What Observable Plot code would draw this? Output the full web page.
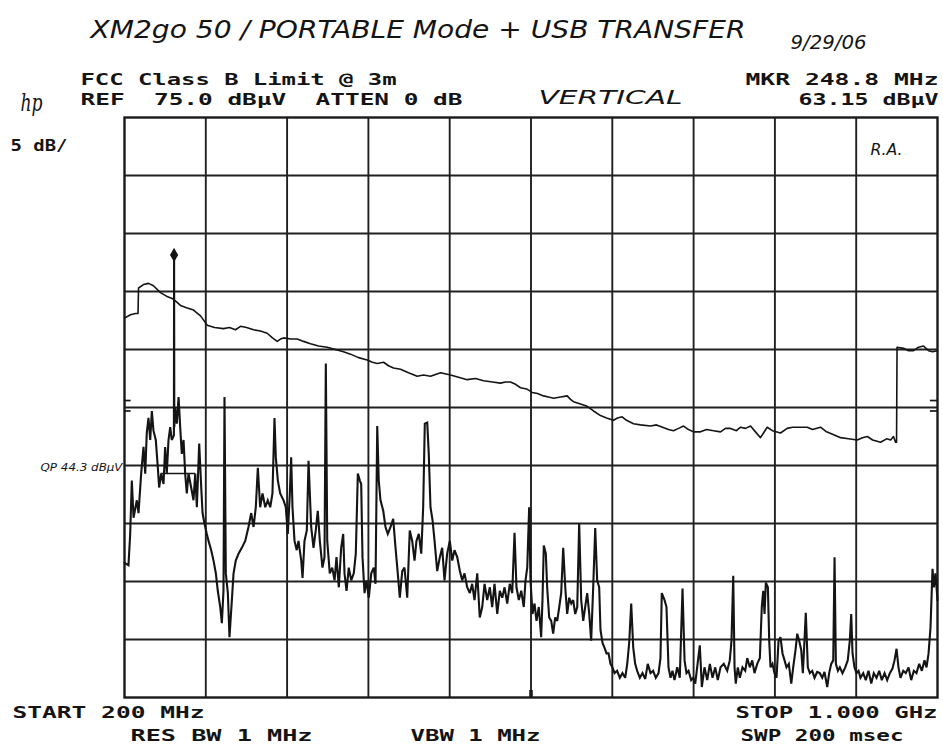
<!DOCTYPE html>
<html>
<head>
<meta charset="utf-8">
<script src="https://cdn.jsdelivr.net/npm/d3@7"></script>
<script src="https://cdn.jsdelivr.net/npm/@observablehq/plot@0.6"></script>
<style>
  html, body { margin: 0; padding: 0; background: #fff; }
  svg { display: block; }
</style>
</head>
<body>
<script>
// ---- axes (spectrum analyzer setup) ----
const startMHz = 200, stopMHz = 1000;     // START 200 MHz / STOP 1.000 GHz
const refDb = 75, bottomDb = 25;          // REF 75.0 dBµV, 5 dB/div, 10 div
const freqGridMHz = [280, 360, 440, 520, 600, 680, 760, 840, 920];
const levelGridDb = [30, 35, 40, 45, 50, 55, 60, 65, 70];

// ---- marker / annotations ----
const markerMHz = [248.8];
const markerDb = [63.15];
const qpDb = [44.3];
const qpSpanMHz = [236, 270];
const edgeTickDb = [50.6, 49.7];
const centerTickMHz = [599, 601];

// ---- FCC Class B limit line (as displayed) [MHz, dBµV] ----
const limitTrace = [
[200,57.7],[205.9,58.0],[210.8,58.1],[213.3,58.1],[213.8,60.3],[218.7,60.6],[223.6,60.7],[228.5,60.5],[235.4,59.9],[241.3,59.6],
[246.9,59.4],[251.2,59.1],[255.1,58.8],[261.0,58.6],[267.9,58.4],[274.8,57.9],[281.4,57.1],[288.6,56.9],[297.4,56.8],[303.3,56.9],
[309.2,56.7],[314.2,57.0],[320.1,56.9],[327.0,56.7],[333.8,56.6],[340.4,56.4],[345.6,56.0],[350.3,55.7],[353.5,55.9],[356.5,56.0],
[363.4,55.9],[370.0,55.9],[376.2,55.7],[383.0,55.5],[390.9,55.3],[399.5,55.2],[407.6,55.0],[415.5,54.8],[422.4,54.6],[430.3,54.3],
[438.8,54.1],[444.0,53.9],[448.7,53.8],[454.9,53.9],[459.8,53.6],[464.7,53.4],[471.6,53.3],[479.5,53.0],[488.0,52.7],[494.2,52.8],
[501.1,52.7],[511.0,53.0],[520.8,52.8],[528.7,52.6],[537.2,52.4],[545.4,52.5],[553.3,52.3],[562.1,52.2],[570.0,52.1],[574.9,52.2],
[579.8,52.2],[584.8,52.0],[589.7,51.7],[595.6,51.6],[601.2,51.3],[606.4,51.2],[612.3,51.0],[617.2,50.9],[622.2,50.8],[629.1,50.9],
[635.6,51.0],[638.9,50.7],[641.8,50.5],[648.7,50.3],[655.3,50.1],[661.5,49.7],[668.4,49.3],[674.3,49.1],[681.2,48.9],[685.1,49.1],
[689.7,49.2],[694.0,48.9],[700.9,48.6],[707.8,48.5],[717.6,48.4],[723.5,48.5],[729.4,48.3],[735.3,48.1],[740.2,48.0],[745.2,48.2],
[750.1,48.4],[755.0,48.1],[759.9,47.9],[766.8,47.9],[772.7,48.1],[779.6,48.0],[786.5,47.9],[791.4,48.2],[796.3,48.2],[802.2,48.0],
[806.2,48.3],[811.1,48.2],[816.0,48.4],[820.9,47.9],[825.8,47.4],[828.8,47.8],[832.4,48.3],[837.6,48.0],[845.5,47.8],[852.1,48.2],
[857.3,48.3],[865.2,48.3],[871.8,48.3],[877.0,48.1],[884.9,48.3],[890.8,47.9],[896.7,47.7],[904.6,47.4],[912.4,47.3],[921.0,47.2],
[926.2,47.4],[930.9,47.5],[936.2,47.2],[944.0,47.0],[949.9,47.3],[953.9,47.2],[956.7,47.5],[958.7,47.0],[959.7,47.0],[960.2,55.2],
[966.6,55.1],[971.5,54.9],[976.4,54.9],[981.3,55.2],[986.2,55.3],[991.2,54.9],[995.1,54.8],[1000,54.9]
];

// ---- measured emission trace [MHz, dBµV] ----
const noiseTrace = [
[200.0,36.6],[203.9,36.4],[205.6,39.1],[207.2,43.7],[208.9,40.5],[212.1,42.0],[213.8,40.9],[216.4,44.3],[218.7,46.6],[220.4,44.3],
[221.9,47.8],[223.6,49.1],[225.3,47.2],[226.9,49.7],[228.5,48.0],[230.8,47.2],[232.8,44.8],[234.1,43.1],[236.1,44.3],[238.4,43.4],
[240.0,46.6],[241.6,44.3],[243.3,47.2],[245.0,48.3],[246.5,47.2],[248.6,47.6],[248.8,63.15],[249.0,48.3],[249.9,50.0],[251.5,48.6],
[253.2,50.9],[254.8,48.3],[256.4,46.0],[258.1,47.2],[259.7,44.3],[261.3,42.6],[263.0,44.3],[265.6,43.1],[267.9,42.0],[269.6,44.3],
[271.2,41.4],[273.5,46.9],[275.5,43.1],[276.8,40.9],[278.7,40.0],[281.0,39.1],[282.7,38.5],[285.3,37.7],[287.6,36.8],[289.9,35.7],
[291.8,34.2],[294.2,32.8],[295.8,31.4],[297.4,34.2],[298.4,50.9],[299.7,35.7],[301.7,34.0],[303.3,30.2],[305.0,32.5],[307.3,35.7],
[309.5,36.8],[312.2,37.4],[315.4,37.9],[318.8,38.5],[322.0,39.7],[324.7,40.9],[327.0,39.7],[329.2,41.4],[331.2,44.8],[333.5,41.4],
[335.8,42.6],[338.5,41.4],[341.0,42.0],[343.4,41.4],[345.6,42.6],[347.6,49.1],[348.9,45.7],[350.9,43.7],[353.2,42.6],[356.5,42.0],
[358.7,41.4],[360.7,39.1],[362.7,42.6],[364.0,45.7],[365.3,41.4],[367.3,38.5],[369.5,37.7],[371.2,38.5],[373.9,36.8],[375.2,35.3],
[377.1,38.5],[379.4,39.4],[381.1,45.4],[383.7,39.7],[386.0,37.9],[388.2,39.4],[390.2,41.1],[392.2,38.5],[394.8,36.2],[396.8,37.1],
[398.1,53.8],[399.5,38.5],[402.0,35.7],[404.4,36.2],[406.7,35.1],[408.6,37.1],[410.9,34.5],[413.2,37.9],[415.2,39.1],[416.5,35.7],
[418.5,34.2],[420.7,36.2],[423.1,35.1],[425.6,35.7],[427.6,37.4],[429.6,44.3],[431.6,43.7],[432.9,43.4],[434.2,37.1],[436.2,34.0],
[438.1,35.1],[440.4,33.6],[442.8,35.7],[445.3,36.2],[447.0,34.8],[448.7,48.4],[450.2,43.7],[451.9,42.0],[454.6,41.1],[456.8,39.7],
[459.1,39.1],[461.8,39.7],[464.4,40.4],[466.7,37.9],[468.9,35.7],[470.9,33.6],[473.3,35.9],[475.5,36.2],[478.2,33.6],[480.7,39.4],
[483.1,38.5],[485.4,36.8],[487.3,38.5],[489.6,39.1],[492.0,37.4],[493.9,41.4],[495.5,48.6],[497.9,48.7],[499.4,46.0],[501.1,41.4],
[503.1,40.3],[505.1,38.5],[507.7,35.9],[510.3,37.1],[512.6,37.9],[514.9,35.1],[517.5,37.4],[520.1,38.5],[522.5,36.8],[524.7,37.7],
[527.4,37.1],[530.0,35.9],[532.3,35.1],[534.6,35.7],[537.2,34.5],[539.8,34.0],[542.1,34.8],[544.4,33.4],[547.1,35.7],[549.6,31.9],
[552.0,32.8],[554.3,34.8],[556.9,33.4],[559.5,34.5],[561.8,32.8],[564.1,34.8],[566.8,32.2],[569.3,34.2],[571.7,33.6],[574.0,34.5],
[576.6,33.1],[579.1,34.8],[581.5,34.0],[583.8,39.2],[585.7,34.5],[588.0,33.4],[590.4,34.2],[592.9,32.8],[594.6,35.1],[596.3,36.2],
[598.2,41.4],[599.5,35.1],[601.5,32.2],[603.5,33.1],[605.4,31.6],[607.7,32.8],[610.0,30.2],[611.3,33.4],[612.6,38.1],[614.6,37.4],
[615.9,34.5],[617.9,31.9],[619.9,31.6],[621.8,30.5],[623.8,31.9],[625.8,31.6],[627.8,32.8],[629.7,34.0],[631.7,37.9],[633.7,34.5],
[635.6,32.2],[637.6,33.6],[639.6,33.1],[641.5,33.4],[643.5,32.2],[645.5,32.8],[647.4,40.0],[649.4,33.4],[651.4,31.6],[653.3,32.8],
[655.3,34.0],[657.3,32.2],[659.2,29.9],[661.2,34.5],[663.2,39.6],[665.1,35.1],[667.1,34.5],[668.4,30.8],[670.4,29.7],[672.3,29.3],
[674.3,28.8],[676.3,28.8],[678.2,27.9],[680.2,27.6],[682.2,27.1],[684.8,27.3],[687.4,26.7],[690.0,27.1],[692.7,26.7],[694.7,27.9],
[696.6,29.7],[698.6,33.1],[700.6,29.3],[702.5,27.9],[704.5,27.3],[707.1,26.7],[709.7,27.1],[712.4,26.6],[714.9,27.9],[717.6,27.1],
[720.2,27.3],[722.8,26.7],[725.5,27.1],[727.4,28.4],[728.7,34.0],[731.4,33.4],[733.3,32.8],[735.3,27.6],[737.3,26.7],[739.2,27.3],
[741.2,26.5],[743.9,27.6],[746.4,26.7],[749.1,34.4],[751.1,28.2],[753.0,27.1],[755.0,27.3],[757.6,26.5],[759.6,26.7],[761.6,26.2],
[763.5,27.6],[766.1,29.5],[768.1,25.9],[770.7,27.6],[773.4,26.5],[776.0,27.9],[778.6,26.7],[781.3,27.6],[783.8,26.5],[786.5,27.6],
[789.7,27.9],[793.1,27.3],[795.6,28.2],[797.3,29.9],[799.0,35.5],[800.3,27.6],[801.5,26.2],[803.5,27.6],[805.5,26.7],[808.1,27.6],
[810.8,27.3],[812.8,28.4],[815.3,27.6],[817.7,28.2],[819.9,27.1],[822.6,27.9],[825.2,28.4],[827.1,32.8],[828.5,34.2],[829.8,32.2],
[831.1,34.9],[833.1,34.5],[834.4,29.9],[835.7,27.6],[837.6,27.9],[839.6,27.1],[841.6,26.7],[843.6,29.9],[845.5,30.2],[847.5,28.8],
[849.5,28.2],[851.4,27.6],[853.7,27.9],[856.1,26.2],[858.0,27.6],[860.3,29.1],[862.0,30.5],[863.9,29.9],[865.9,29.1],[867.5,27.1],
[869.1,29.9],[870.4,32.3],[872.4,27.6],[874.4,27.1],[876.7,27.3],[879.0,26.7],[881.6,27.2],[884.2,27.1],[886.6,26.7],[888.8,27.2],
[891.5,25.9],[893.4,27.1],[895.4,27.9],[897.4,28.2],[898.7,37.1],[900.0,27.9],[902.0,27.3],[903.9,27.6],[906.5,27.1],[909.2,27.6],
[911.7,28.2],[913.7,29.9],[915.1,32.2],[916.4,28.8],[918.3,27.6],[920.3,27.1],[922.3,27.3],[924.2,26.7],[926.9,27.1],[929.4,26.5],
[932.1,27.3],[934.8,26.2],[937.3,27.1],[940.0,26.7],[942.6,27.3],[945.2,26.5],[947.9,27.1],[950.5,26.5],[953.1,27.1],[955.7,27.5],
[957.7,28.2],[959.7,29.2],[961.6,27.6],[963.6,26.7],[966.3,27.3],[968.8,27.1],[971.5,27.6],[974.1,26.5],[976.7,27.3],[979.3,27.1],
[982.0,27.9],[984.6,27.3],[987.2,28.2],[989.2,27.6],[991.2,28.8],[993.1,31.0],[995.1,36.1],[996.4,34.5],[998.0,35.7],[1000.0,33.4]
];

// ---- texts ----
const hdr1 = "FCC Class B Limit @ 3m";
const hdr2 = "REF  75.0 dBμV  ATTEN 0 dB";
const mkr1 = "MKR 248.8 MHz";
const mkr2 = "63.15 dBμV";
const scaleTxt = "5 dB/";
const startTxt = "START 200 MHz";
const stopTxt = "STOP 1.000 GHz";
const rbwTxt = "RES BW 1 MHz";
const vbwTxt = "VBW 1 MHz";
const swpTxt = "SWP 200 msec";
const titleTxt = "XM2go 50 / PORTABLE Mode + USB TRANSFER";
const dateTxt = "9/29/06";
const polTxt = "VERTICAL";
const initTxt = "R.A.";
const qpTxt = "QP 44.3 dBμV";
const logoTxt = "hp";

const ink = "#141414";
const mono = "DejaVu Sans Mono";
const hand = "DejaVu Sans";

// pixel widths to stretch the plotter / handwritten lettering
const textWidths = {
  [hdr1]: 316, [hdr2]: 382, [mkr1]: 193, [mkr2]: 140, [scaleTxt]: 57,
  [startTxt]: 192, [stopTxt]: 202, [rbwTxt]: 182, [vbwTxt]: 130, [swpTxt]: 163,
  [titleTxt]: 655, [dateTxt]: 76, [polTxt]: 144, [initTxt]: 32, [qpTxt]: 82, [logoTxt]: 22
};

function label(txt, frameAnchor, dx, dy, anchor, size, family, extra = {}) {
  return Plot.text([txt], {frameAnchor, dx, dy, textAnchor: anchor, lineAnchor: "middle",
    fontSize: size, fontFamily: family, fill: ink, ...extra});
}
const plotter = {fontWeight: "bold"};
const pen = {fontStyle: "italic", fontWeight: 300};

const chart = Plot.plot({
  width: 943,
  height: 744,
  marginLeft: 124,
  marginRight: 6,
  marginTop: 117,
  marginBottom: 47,
  x: {domain: [startMHz, stopMHz], axis: null},
  y: {domain: [bottomDb, refDb], axis: null},
  style: {background: "#fff", overflow: "visible"},
  marks: [
    Plot.ruleX(freqGridMHz, {stroke: "#202020", strokeWidth: 1.9}),
    Plot.ruleY(levelGridDb, {stroke: "#202020", strokeWidth: 1.9}),
    Plot.frame({stroke: "#1a1a1a", strokeWidth: 2.4}),
    Plot.ruleY(edgeTickDb, {x1: 200, x2: 206.5, stroke: ink, strokeWidth: 1.7}),
    Plot.ruleY(edgeTickDb, {x1: 993, x2: 1000, stroke: ink, strokeWidth: 1.7}),
    Plot.ruleX(centerTickMHz, {y1: 25, y2: 25.6, stroke: ink, strokeWidth: 1.5}),
    Plot.line(limitTrace, {x: d => d[0], y: d => d[1], stroke: ink, strokeWidth: 1.6, curve: "linear"}),
    Plot.line(noiseTrace, {x: d => d[0], y: d => d[1], stroke: ink, strokeWidth: 2.1, strokeLinejoin: "miter", strokeMiterlimit: 3}),
    Plot.ruleY(qpDb, {x1: qpSpanMHz[0], x2: qpSpanMHz[1], stroke: ink, strokeWidth: 1.5}),
    Plot.dot(markerMHz.map((m, i) => [m, markerDb[i]]), {x: d => d[0], y: d => d[1], symbol: "diamond", r: 3.4, fill: ink, stroke: ink}),
    Plot.text([qpTxt], {x: startMHz, y: qpDb[0], dx: -2, dy: -6, textAnchor: "end", fontSize: 10, fontFamily: hand, fill: ink, ...pen}),

    label(hdr1, "top-left", -44, -38, "start", 16, mono, plotter),
    label(hdr2, "top-left", -44, -18, "start", 16, mono, plotter),
    label(mkr1, "top-right", 1, -38, "end", 16, mono, plotter),
    label(mkr2, "top-right", 1, -18, "end", 16, mono, plotter),
    label(scaleTxt, "top-left", -114, 29, "start", 15, mono, plotter),
    label(startTxt, "bottom-left", -112, 15, "start", 16, mono, plotter),
    label(stopTxt, "bottom-right", 0, 15, "end", 16, mono, plotter),
    label(rbwTxt, "bottom-left", 6, 38, "start", 16, mono, plotter),
    label(vbwTxt, "bottom-left", 286, 38, "start", 16, mono, plotter),
    label(swpTxt, "bottom-left", 616, 38, "start", 16, mono, plotter),
    label(logoTxt, "top-left", -104, -14, "start", 24, "DejaVu Serif", {fontStyle: "italic"}),
    label(titleTxt, "top-left", -34, -88, "start", 25, hand, pen),
    label(dateTxt, "top-left", 666, -75, "start", 19, hand, pen),
    label(polTxt, "top-left", 414, -20, "start", 19, hand, pen),
    label(initTxt, "top-left", 746, 33, "start", 15, hand, pen)
  ]
});

d3.select(chart).selectAll("text").each(function () {
  const w = textWidths[this.textContent];
  if (w) {
    this.setAttribute("textLength", w);
    this.setAttribute("lengthAdjust", "spacingAndGlyphs");
  }
});

document.body.appendChild(chart);
</script>
</body>
</html>
